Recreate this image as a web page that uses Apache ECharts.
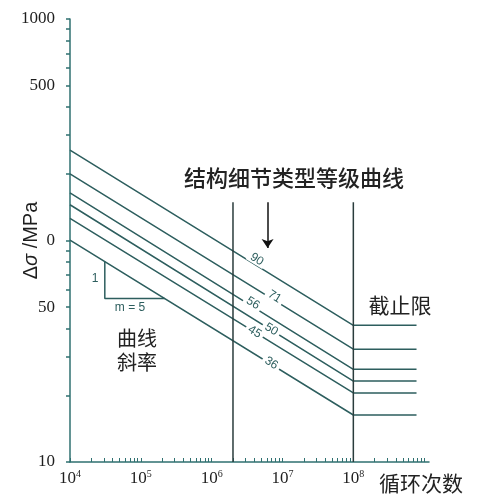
<!DOCTYPE html>
<html>
<head>
<meta charset="utf-8">
<script src="https://cdn.jsdelivr.net/npm/echarts@6/dist/echarts.min.js"></script>
<style>
  html, body { margin: 0; padding: 0; background: #fff; }
  #chart { width: 481px; height: 504px; }
</style>
</head>
<body>
<div id="chart"></div>
<script>
// detail categories and stress ranges (MPa)
const categories = ['90', '71', '56', '50', '45', '36'];
const stressAtStart = [256, 200, 164, 145, 126, 100.5];   // N = 1e4
const stressAtCutoff = [41.4, 32.3, 26.2, 23.2, 20.5, 16.3]; // N = 1e8
const nStart = 1e4;
const nCutoff = 1e8;
const nEnd = 7.8e8;
const nKnee = 2e6;
const boundaryTop = 149;

// where the category numbers sit on their lines
const labelN = [4.34e6, 7.73e6, 3.82e6, 6.95e6, 4.04e6, 6.95e6];
const labelStress = [82.2, 55.7, 52.1, 39.7, 38.7, 27.9];

const slopeTriangle = [[3.1e4, 80.4], [3.1e4, 54.7], [2.17e5, 54.7]];
const arrowN = 6.16e6;
const arrowFrom = 149;
const arrowTo = 92.5;

// axis ticks / labels
const yTickValues = [10, 20, 30, 40, 50, 60, 70, 80, 90, 100, 200, 300, 400, 500, 600, 700, 800, 900, 1000];
const yLabelValues = [10, 50, 100, 500, 1000];
const yLabelTexts = ['10', '50', '0', '500', '1000'];
const xLabelValues = [1e4, 1e5, 1e6, 1e7, 1e8];
const xLabelExps = ['4', '5', '6', '7', '8'];
const xTickValues = [];
for (let k = 4; k <= 8; k++) {
  for (let m = 1; m <= 9; m++) xTickValues.push(m * Math.pow(10, k));
}
xTickValues.push(1e9);

const lineColor = '#2d5e5e';
const axisColor = '#2f7070';
const textColor = '#1e1e1e';

function findIdx(list, v) {
  const lv = Math.log10(v);
  for (let i = 0; i < list.length; i++) {
    if (Math.abs(Math.log10(list[i]) - lv) < 1e-4) return i;
  }
  return -1;
}

const series = categories.map((c, i) => ({
  type: 'line',
  name: c,
  symbol: 'none',
  silent: true,
  lineStyle: { color: lineColor, width: 1.5 },
  data: [[nStart, stressAtStart[i]], [nCutoff, stressAtCutoff[i]], [nEnd, stressAtCutoff[i]]],
  markPoint: {
    symbol: 'circle',
    symbolSize: 0,
    data: [{ coord: [labelN[i], labelStress[i]] }],
    label: {
      show: true,
      position: 'inside',
      formatter: c,
      rotate: -31.7,
      color: lineColor,
      fontSize: 12,
      fontFamily: 'Liberation Sans',
      backgroundColor: '#fff',
      padding: [0, 3],
      lineHeight: 11
    }
  }
}));

series.push({
  type: 'line',
  symbol: 'none',
  silent: true,
  lineStyle: { color: '#2a3c3c', width: 1.5 },
  data: [[nKnee, 10], [nKnee, boundaryTop]],
  markLine: {
    silent: true,
    symbol: ['none', 'arrow'],
    symbolSize: 9,
    label: { show: false },
    lineStyle: { color: '#111', width: 1.5, type: 'solid' },
    data: [[{ coord: [arrowN, arrowFrom] }, { coord: [arrowN, arrowTo] }]]
  }
});
series.push({
  type: 'line',
  symbol: 'none',
  silent: true,
  lineStyle: { color: '#2a3c3c', width: 1.5 },
  data: [[nCutoff, 10], [nCutoff, boundaryTop]]
});
series.push({
  type: 'line',
  symbol: 'none',
  silent: true,
  lineStyle: { color: lineColor, width: 1.5 },
  data: slopeTriangle
});

const option = {
  animation: false,
  backgroundColor: '#fff',
  grid: { left: 70, right: 52, top: 19, bottom: 42, outerBoundsMode: 'none', containLabel: false },
  xAxis: {
    type: 'log',
    logBase: 10,
    min: nStart,
    max: 1.17e9,
    splitLine: { show: false },
    axisLine: { lineStyle: { color: axisColor, width: 1.5 } },
    axisTick: { inside: true, length: 4, customValues: xTickValues, lineStyle: { color: axisColor, width: 1 } },
    axisLabel: {
      customValues: xLabelValues,
      margin: 7,
      formatter: v => {
        const i = findIdx(xLabelValues, v);
        return i < 0 ? '' : '{b|10}{s|' + xLabelExps[i] + '}';
      },
      rich: {
        b: { fontSize: 17, fontFamily: 'Liberation Serif', color: textColor, lineHeight: 20 },
        s: { fontSize: 10, fontFamily: 'Liberation Serif', color: textColor, verticalAlign: 'top', lineHeight: 20 }
      }
    }
  },
  yAxis: {
    type: 'log',
    logBase: 10,
    min: 10,
    max: 1000,
    splitLine: { show: false },
    name: 'Δ{i|σ} /MPa',
    nameLocation: 'middle',
    nameRotate: 90,
    nameGap: 29,
    nameMoveOverlap: false,
    nameTextStyle: {
      fontSize: 20,
      fontFamily: 'Liberation Sans',
      color: textColor,
      rich: { i: { fontSize: 20, fontStyle: 'italic', fontFamily: 'Liberation Sans', color: textColor } }
    },
    axisLine: { lineStyle: { color: axisColor, width: 1.5 } },
    axisTick: { inside: false, length: 4, customValues: yTickValues, lineStyle: { color: axisColor, width: 1.5 } },
    axisLabel: {
      customValues: yLabelValues,
      margin: 15,
      fontSize: 17,
      fontFamily: 'Liberation Serif',
      color: textColor,
      formatter: v => {
        const i = findIdx(yLabelValues, v);
        return i < 0 ? '' : yLabelTexts[i];
      }
    }
  },
  graphic: [
    { type: 'text', x: 294, y: 178, style: { text: '结构细节类型等级曲线', align: 'center', verticalAlign: 'middle', font: '500 22px "Noto Sans CJK SC"', fill: '#222' } },
    { type: 'text', x: 137, y: 350, style: { text: '曲线\n斜率', align: 'center', verticalAlign: 'middle', font: '20px "Noto Sans CJK SC"', lineHeight: 24, fill: '#222' } },
    { type: 'text', x: 400, y: 305, style: { text: '截止限', align: 'center', verticalAlign: 'middle', font: '21px "Noto Sans CJK SC"', fill: '#222' } },
    { type: 'text', x: 421, y: 483, style: { text: '循环次数', align: 'center', verticalAlign: 'middle', font: '21px "Noto Sans CJK SC"', fill: '#222' } },
    { type: 'text', x: 95, y: 279, style: { text: '1', align: 'center', verticalAlign: 'middle', font: '12px "Liberation Sans"', fill: lineColor } },
    { type: 'text', x: 130, y: 308, style: { text: 'm = 5', align: 'center', verticalAlign: 'middle', font: '12px "Liberation Sans"', fill: lineColor } }
  ],
  series: series
};

const myChart = echarts.init(document.getElementById('chart'));
myChart.setOption(option);
</script>
</body>
</html>
